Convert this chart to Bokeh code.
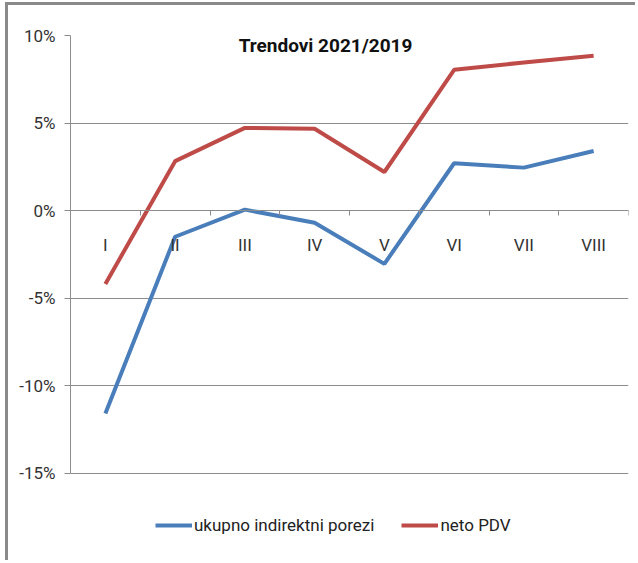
from bokeh.plotting import figure
from bokeh.models import (Range1d, LinearAxis, FixedTicker, PrintfTickFormatter,
                          Legend, LegendItem, Label, Grid)
from bokeh.embed import file_html
from bokeh.resources import INLINE

# ---- data ----
months = ["I", "II", "III", "IV", "V", "VI", "VII", "VIII"]
ukupno_indirektni_porezi = [-11.6, -1.5, 0.05, -0.7, -3.05, 2.7, 2.45, 3.4]
neto_pdv = [-4.2, 2.82, 4.72, 4.67, 2.2, 8.04, 8.46, 8.84]
y_ticks = [-15, -10, -5, 0, 5, 10]
title_text = "Trendovi 2021/2019"
series_names = ["ukupno indirektni porezi", "neto PDV"]

FONT = "Roboto"
BLUE = "#4A7EBB"
RED = "#BE4B48"
GRID = "#8c8c8c"

xs = [i + 0.5 for i in range(len(months))]

p = figure(width=630, height=558, output_backend="svg", toolbar_location=None,
           x_range=Range1d(0, len(months)), y_range=Range1d(-20, 10),
           min_border_left=62, min_border_right=10, min_border_top=30,
           min_border_bottom=3, x_axis_type=None, y_axis_type=None)
p.styles = {"border-top": "3px solid #8a8a8a", "border-left": "3px solid #8a8a8a",
            "margin-left": "5px", "margin-top": "2px"}
p.outline_line_color = None
p.background_fill_color = "white"
p.border_fill_color = "white"

# y axis
yax = LinearAxis(ticker=FixedTicker(ticks=y_ticks), bounds=(y_ticks[0], y_ticks[-1]),
                 formatter=PrintfTickFormatter(format="%d%%"))
yax.axis_line_color = GRID
yax.major_tick_line_color = GRID
yax.major_tick_out = 6
yax.major_tick_in = 0
yax.minor_tick_line_color = None
yax.major_label_text_font = FONT
yax.major_label_text_font_size = "17px"
yax.major_label_text_color = "#333333"
yax.major_label_standoff = 9
p.add_layout(yax, "left")

# x axis at y = 0 : tick marks between categories
xtick_ax = LinearAxis(ticker=FixedTicker(ticks=list(range(len(months) + 1))),
                      fixed_location=0)
xtick_ax.axis_line_color = GRID
xtick_ax.major_tick_line_color = GRID
xtick_ax.major_tick_out = 5
xtick_ax.major_tick_in = 0
xtick_ax.minor_tick_line_color = None
xtick_ax.major_label_overrides = {i: "" for i in range(len(months) + 1)}
p.add_layout(xtick_ax, "below")

# category labels
xlab_ax = LinearAxis(ticker=FixedTicker(ticks=xs), fixed_location=0)
xlab_ax.axis_line_color = None
xlab_ax.major_tick_line_color = None
xlab_ax.minor_tick_line_color = None
xlab_ax.major_tick_out = 0
xlab_ax.major_tick_in = 0
xlab_ax.major_label_overrides = {x: m for x, m in zip(xs, months)}
xlab_ax.major_label_text_font = FONT
xlab_ax.major_label_text_font_size = "17px"
xlab_ax.major_label_text_color = "#333333"
xlab_ax.major_label_standoff = 24
p.add_layout(xlab_ax, "below")

# grid
g = Grid(dimension=1, ticker=FixedTicker(ticks=y_ticks), grid_line_color=GRID,
         grid_line_width=1)
p.add_layout(g)

r1 = p.line(xs, ukupno_indirektni_porezi, line_color=BLUE, line_width=4)
r2 = p.line(xs, neto_pdv, line_color=RED, line_width=4)

title = Label(x=255, y=515, x_units="screen", y_units="screen", text=title_text,
              text_font=FONT, text_font_size="19px", text_font_style="bold",
              text_align="center", text_baseline="middle", text_color="#111111")
p.add_layout(title)

legend = Legend(items=[LegendItem(label=series_names[0], renderers=[r1]),
                       LegendItem(label=series_names[1], renderers=[r2])],
                location=(85, 25), orientation="horizontal")
legend.border_line_color = None
legend.background_fill_alpha = 0
legend.padding = 0
legend.margin = 0
legend.spacing = 27
legend.glyph_width = 37
legend.glyph_height = 20
legend.label_standoff = 2
legend.label_text_font = FONT
legend.label_text_font_size = "17px"
legend.label_text_color = "#222222"
p.add_layout(legend, "center")

open("out.html", "w").write(file_html(p, INLINE))
